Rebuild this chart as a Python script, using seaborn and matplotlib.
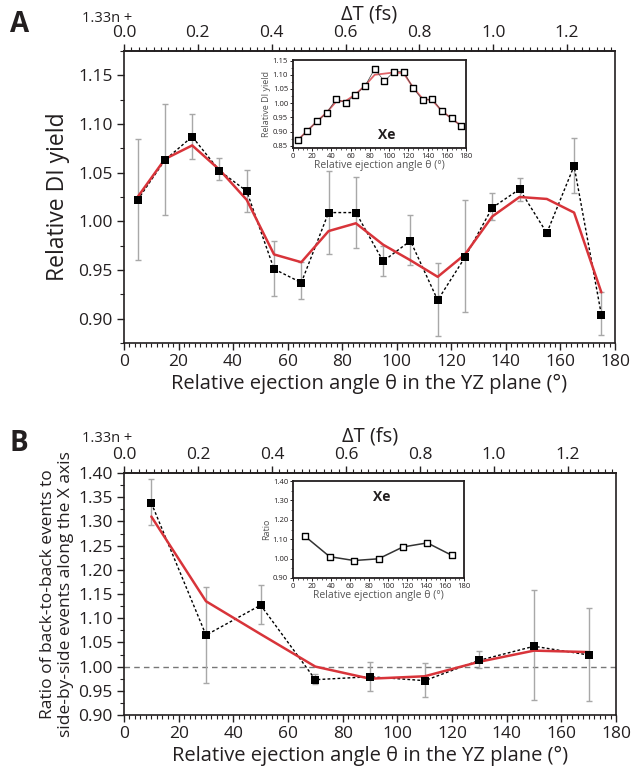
import numpy as np
import seaborn as sns
import matplotlib.pyplot as plt
from matplotlib.ticker import MultipleLocator, FixedLocator, FormatStrFormatter

# ---- panel A data (Ar2, relative DI yield) ----
angle_a = [5, 15, 25, 35, 45, 55, 65, 75, 85, 95, 105, 115, 125, 135, 145, 155, 165, 175]
yield_a = [1.022, 1.063, 1.087, 1.052, 1.031, 0.951, 0.937, 1.009, 1.009, 0.959, 0.980, 0.919,
           0.963, 1.014, 1.033, 0.988, 1.057, 0.904]
err_top_a = [1.085, 1.121, 1.110, 1.065, 1.053, 0.980, 0.958, 1.052, 1.046, 0.975, 1.007, 0.957,
             1.022, 1.029, 1.045, 0.991, 1.086, 0.927]
err_bot_a = [0.960, 1.007, 1.064, 1.042, 1.010, 0.923, 0.920, 0.966, 0.973, 0.944, 0.955, 0.882,
             0.907, 1.001, 1.021, 0.985, 1.029, 0.883]
smooth_a = [1.025, 1.064, 1.078, 1.053, 1.022, 0.966, 0.958, 0.990, 0.998, 0.976, 0.960, 0.943,
            0.966, 1.005, 1.025, 1.023, 1.009, 0.927]

# inset A (Xe)
xe_yield_a = [0.869, 0.903, 0.936, 0.965, 1.015, 1.001, 1.030, 1.061, 1.121, 1.077, 1.111, 1.111,
              1.053, 1.011, 1.014, 0.971, 0.946, 0.919]
xe_smooth_a = [0.870, 0.903, 0.936, 0.967, 1.006, 1.008, 1.031, 1.062, 1.100, 1.104, 1.108, 1.106,
               1.055, 1.015, 1.010, 0.972, 0.946, 0.920]

# ---- panel B data (ratio back-to-back / side-by-side) ----
angle_b = [10, 30, 50, 70, 90, 110, 130, 150, 170]
ratio_b = [1.338, 1.065, 1.127, 0.973, 0.979, 0.971, 1.013, 1.042, 1.024]
err_top_b = [1.388, 1.165, 1.168, 0.985, 1.010, 1.007, 1.032, 1.158, 1.122]
err_bot_b = [1.292, 0.967, 1.088, 0.965, 0.950, 0.937, 0.998, 0.931, 0.928]
smooth_b = [1.310, 1.135, 1.067, 1.000, 0.975, 0.980, 1.010, 1.033, 1.030]

# inset B (Xe)
xe_angle_b = [12.9, 38.6, 64.3, 90.0, 115.7, 141.4, 167.1]
xe_ratio_b = [1.114, 1.010, 0.990, 0.999, 1.060, 1.081, 1.017]

delay_ticks = [0.0, 0.2, 0.4, 0.6, 0.8, 1.0, 1.2]

PERIOD_FS = 1.33  # 180 deg <-> 1.33 fs
RED = '#d8343a'
GREY = '#a8a8a8'
INK = '#231f20'

sns.set_theme(style='ticks')
plt.rcParams['font.family'] = ['Open Sans', 'DejaVu Sans']
plt.rcParams['axes.edgecolor'] = INK
plt.rcParams['text.color'] = INK
plt.rcParams['axes.labelcolor'] = INK
plt.rcParams['xtick.color'] = INK
plt.rcParams['ytick.color'] = INK

fig = plt.figure(figsize=(6.36, 7.72), dpi=100)
W, H = 636.0, 772.0


def px_axes(left, top, right, bottom):
    return fig.add_axes([left / W, 1 - bottom / H, (right - left) / W, (bottom - top) / H])


def style_main(ax, ymin, ymax, ymajor, yminor):
    ax.set_xlim(0, 180)
    ax.set_ylim(ymin, ymax)
    ax.xaxis.set_major_locator(MultipleLocator(20))
    ax.xaxis.set_minor_locator(MultipleLocator(2))
    ax.yaxis.set_major_locator(MultipleLocator(ymajor))
    ax.yaxis.set_minor_locator(MultipleLocator(yminor))
    ax.yaxis.set_major_formatter(FormatStrFormatter('%.2f'))
    ax.tick_params(which='major', direction='out', length=5, width=1.0, labelsize=12.5, pad=3)
    ax.tick_params(which='minor', direction='out', length=3, width=0.8)
    for s in ax.spines.values():
        s.set_linewidth(1.2)
    ax.set_xlabel('Relative ejection angle θ in the YZ plane (°)', fontsize=14.5, labelpad=3)
    # top delay axis
    top = ax.secondary_xaxis('top', functions=(lambda a: a * PERIOD_FS / 180.0,
                                                lambda t: t * 180.0 / PERIOD_FS))
    top.xaxis.set_major_locator(FixedLocator(delay_ticks))
    top.xaxis.set_minor_locator(FixedLocator(np.arange(0.0, 1.33, 0.02)))
    top.xaxis.set_major_formatter(FormatStrFormatter('%.1f'))
    top.tick_params(which='major', direction='out', length=5, width=1.0, labelsize=12.5, pad=2)
    top.tick_params(which='minor', direction='out', length=3, width=0.8)
    top.spines['top'].set_linewidth(1.2)
    top.set_xlabel('ΔT (fs)', fontsize=14.5, labelpad=4)
    return top


def style_inset(ax, ymin, ymax, ymajor, yminor, fmt):
    ax.set_xlim(0, 180)
    ax.set_ylim(ymin, ymax)
    ax.xaxis.set_major_locator(MultipleLocator(20))
    ax.xaxis.set_minor_locator(MultipleLocator(5))
    ax.yaxis.set_major_locator(MultipleLocator(ymajor))
    ax.yaxis.set_minor_locator(MultipleLocator(yminor))
    ax.yaxis.set_major_formatter(FormatStrFormatter(fmt))
    ax.tick_params(which='major', direction='out', length=2.5, width=0.7, labelsize=5.5, pad=1)
    ax.tick_params(which='minor', direction='out', length=1.5, width=0.5)
    for s in ax.spines.values():
        s.set_linewidth(1.3)
    ax.set_xlabel('Relative ejection angle θ (°)', fontsize=7.5, labelpad=0, color='#555555')


# ================= panel A =================
ax_a = px_axes(124, 51, 615, 343)
ax_a.errorbar(angle_a, yield_a,
              yerr=[np.subtract(yield_a, err_bot_a), np.subtract(err_top_a, yield_a)],
              fmt='none', ecolor=GREY, elinewidth=1.0, capsize=2.5, capthick=1.0, zorder=1)
sns.lineplot(x=angle_a, y=yield_a, ax=ax_a, color='black', linestyle=(0, (2, 1.6)),
             linewidth=1.0, zorder=2)
sns.lineplot(x=angle_a, y=smooth_a, ax=ax_a, color=RED, linewidth=1.8, zorder=3)
sns.scatterplot(x=angle_a, y=yield_a, ax=ax_a, marker='s', s=40, color='black',
                edgecolor='black', linewidth=0, zorder=4)
style_main(ax_a, 0.875, 1.175, 0.05, 0.025)
ax_a.set_ylabel('Relative DI yield', fontsize=16.5, labelpad=6)

ins_a = px_axes(293, 60, 466, 148)
sns.lineplot(x=angle_a, y=xe_smooth_a, ax=ins_a, color='#e06468', linewidth=1.3, zorder=2)
sns.lineplot(x=angle_a, y=xe_yield_a, ax=ins_a, color='#444444', linewidth=0.5, zorder=2)
sns.scatterplot(x=angle_a, y=xe_yield_a, ax=ins_a, marker='s', s=14, facecolor='white',
                edgecolor='black', linewidth=1.0, zorder=3)
style_inset(ins_a, 0.842, 1.152, 0.05, 0.025, '%.2f')
ins_a.set_ylabel('Relative DI yield', fontsize=6.5, labelpad=1, color='#555555')
ins_a.text(98, 0.888, 'Xe', fontsize=10, fontweight='bold', ha='center', va='center')

fig.text(10 / W, 1 - 25 / H, 'A', fontsize=20, fontweight='bold', va='center', ha='left')
fig.text(82 / W, 1 - 19 / H, '1.33n +', fontsize=10.5, va='center', ha='left')

# ================= panel B =================
ax_b = px_axes(124, 473, 616, 715)
ax_b.axhline(1.0, color='#777777', linestyle=(0, (4, 3)), linewidth=1.0, zorder=0)
ax_b.errorbar(angle_b, ratio_b,
              yerr=[np.subtract(ratio_b, err_bot_b), np.subtract(err_top_b, ratio_b)],
              fmt='none', ecolor=GREY, elinewidth=1.0, capsize=2.5, capthick=1.0, zorder=1)
sns.lineplot(x=angle_b, y=ratio_b, ax=ax_b, color='black', linestyle=(0, (2, 1.6)),
             linewidth=1.0, zorder=2)
sns.lineplot(x=angle_b, y=smooth_b, ax=ax_b, color=RED, linewidth=1.8, zorder=3)
sns.scatterplot(x=angle_b, y=ratio_b, ax=ax_b, marker='s', s=40, color='black',
                edgecolor='black', linewidth=0, zorder=4)
style_main(ax_b, 0.90, 1.40, 0.05, 0.025)
ax_b.set_ylabel('Ratio of back-to-back events to\nside-by-side events along the X axis',
                fontsize=12.5, labelpad=3, linespacing=1.2)

ins_b = px_axes(293, 481, 464, 578)
sns.lineplot(x=xe_angle_b, y=xe_ratio_b, ax=ins_b, color='#333333', linewidth=1.1, zorder=2)
sns.scatterplot(x=xe_angle_b, y=xe_ratio_b, ax=ins_b, marker='s', s=14, facecolor='white',
                edgecolor='black', linewidth=1.0, zorder=3)
style_inset(ins_b, 0.90, 1.40, 0.10, 0.05, '%.2f')
ins_b.set_ylabel('Ratio', fontsize=6.5, labelpad=1, color='#555555')
ins_b.text(93, 1.32, 'Xe', fontsize=10, fontweight='bold', ha='center', va='center')

fig.text(10 / W, 1 - 443 / H, 'B', fontsize=20, fontweight='bold', va='center', ha='left')
fig.text(82 / W, 1 - 439 / H, '1.33n +', fontsize=10.5, va='center', ha='left')

fig.savefig('out.png', dpi=100)
